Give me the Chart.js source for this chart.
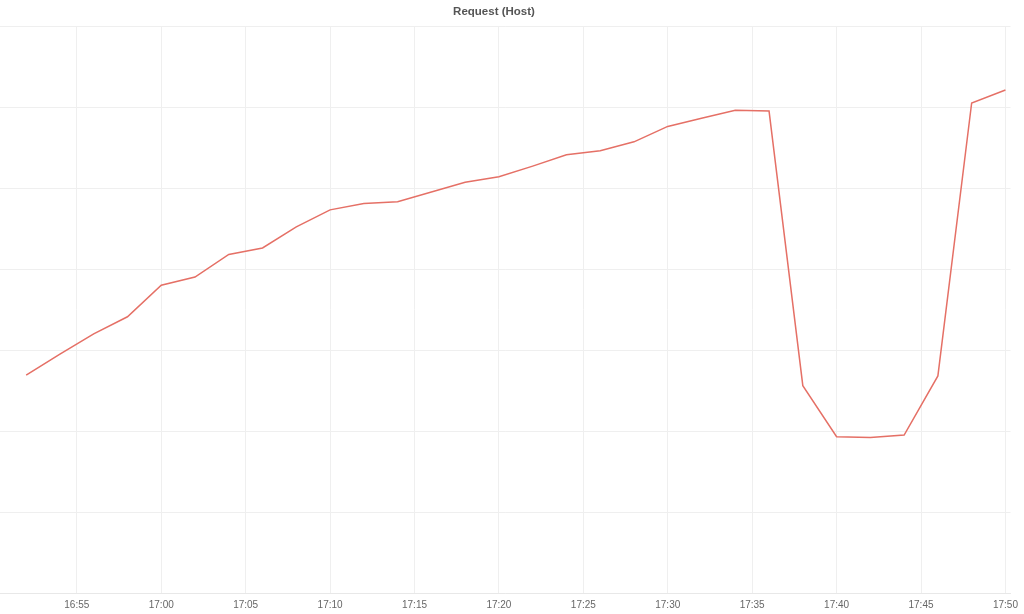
<!DOCTYPE html>
<html>
<head>
<meta charset="utf-8">
<script src="https://cdn.jsdelivr.net/npm/chart.js@4/dist/chart.umd.min.js"></script>
<style>
  html, body { margin: 0; padding: 0; background: #fff; }
  #wrap { width: 1024px; height: 614px; }
</style>
</head>
<body>
<div id="wrap"><canvas id="chart"></canvas></div>
<script>
const times = [
  '16:52', '16:54', '16:56', '16:58', '17:00', '17:02', '17:04', '17:06', '17:08', '17:10',
  '17:12', '17:14', '17:16', '17:18', '17:20', '17:22', '17:24', '17:26', '17:28', '17:30',
  '17:32', '17:34', '17:36', '17:38', '17:40', '17:42', '17:44', '17:46', '17:48', '17:50'
];
const requests = [
  269, 295, 320, 341, 380, 390, 418, 426, 452, 473,
  481, 483, 495, 507, 514, 527, 541, 546, 557, 576,
  586, 596, 595, 256, 193, 192, 195, 268, 605, 621
];
const chartTitle = 'Request (Host)';

const toMinutes = (label) => {
  const [h, m] = label.split(':').map(Number);
  return h * 60 + m;
};

const formatMinutes = (value) => {
  const h = Math.floor(value / 60);
  const m = Math.round(value - h * 60);
  return `${String(h).padStart(2, '0')}:${String(m).padStart(2, '0')}`;
};

const points = times.map((t, i) => ({ x: toMinutes(t), y: requests[i] }));

// title is slightly left of centre in the reference, so draw it ourselves
const titlePlugin = {
  id: 'offsetTitle',
  afterDraw(chart) {
    const { ctx } = chart;
    ctx.save();
    ctx.font = 'bold 11.5px "Liberation Sans", Arial, sans-serif';
    ctx.fillStyle = '#555';
    ctx.textAlign = 'center';
    ctx.textBaseline = 'middle';
    ctx.fillText(chartTitle, 494, 12);
    ctx.restore();
  }
};

new Chart(document.getElementById('chart'), {
  type: 'line',
  data: {
    datasets: [
      {
        label: chartTitle,
        data: points,
        borderColor: 'rgb(229, 112, 102)',
        backgroundColor: 'rgb(229, 112, 102)',
        borderWidth: 1.5,
        fill: false,
        tension: 0,
        pointRadius: 0
      }
    ]
  },
  options: {
    responsive: true,
    maintainAspectRatio: false,
    animation: false,
    layout: { padding: { top: 26, right: 12, bottom: 0, left: 0 } },
    plugins: {
      legend: { display: false },
      title: { display: false },
      tooltip: { enabled: false }
    },
    scales: {
      x: {
        type: 'linear',
        min: toMinutes('16:50') + 0.45,
        max: toMinutes('17:50') + 0.3,
        afterFit: (scale) => { scale.height = 21; },
        grid: { color: '#efefef', drawTicks: false },
        border: { color: '#e8e8e8' },
        ticks: {
          stepSize: 5,
          includeBounds: false,
          padding: 6,
          maxRotation: 0,
          color: '#666',
          font: { size: 10, family: '"Liberation Sans", Arial, sans-serif' },
          callback: (value) => formatMinutes(value)
        }
      },
      y: {
        min: 0,
        max: 700,
        grid: { color: '#efefef', drawTicks: false },
        border: { display: false },
        ticks: { display: false, stepSize: 100 }
      }
    }
  },
  plugins: [titlePlugin]
});
</script>
</body>
</html>
